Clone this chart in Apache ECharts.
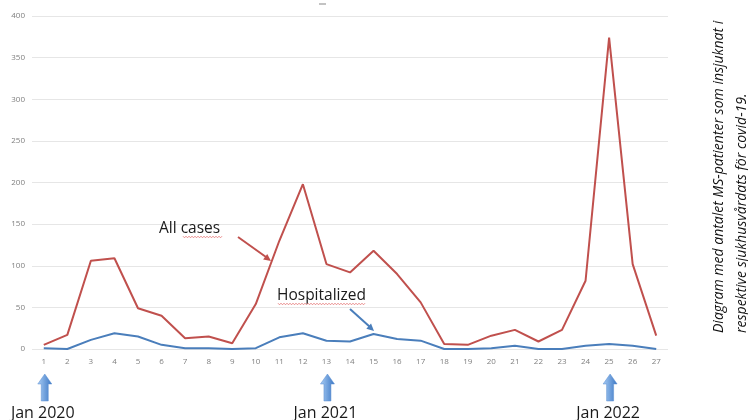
<!DOCTYPE html>
<html>
<head>
<meta charset="utf-8">
<script src="https://cdn.jsdelivr.net/npm/echarts@6/dist/echarts.min.js"></script>
<style>
html,body{margin:0;padding:0;background:#fff;}
#c{width:748px;height:420px;}
</style>
</head>
<body>
<div id="c"></div>
<script>
var categories = ['1','2','3','4','5','6','7','8','9','10','11','12','13','14','15','16','17','18','19','20','21','22','23','24','25','26','27'];
var allCases = [5,17,106,109,49,40,13,15,7,54,130,198,102,92,118,90,56,6,5,16,23,9,23,82,374,102,16];
var hospitalized = [1,0,11,19,15,5,1,1,0,1,14,19,10,9,18,12,10,0,0,1,4,0,0,4,6,4,0];
var yTicks = [0,50,100,150,200,250,300,350,400];
var markerCats = ['1','13','25'];
var markerLabels = ['Jan 2020','Jan 2021','Jan 2022'];
var captionLines = ['Diagram med antalet MS-patienter som insjuknat i','respektive sjukhusvårdats för covid-19.'];

(function () {
var chart = echarts.init(document.getElementById('c'));
chart.setOption({
  animation: false,
  backgroundColor: '#ffffff',
  grid: {left: 32, right: 80, top: 16, bottom: 71},
  xAxis: {
    type: 'category',
    data: categories,
    boundaryGap: true,
    axisLine: {show: false},
    axisTick: {show: false},
    axisLabel: {color: '#7f7f7f', fontSize: 8, fontFamily: 'Open Sans', margin: 9}
  },
  yAxis: {
    type: 'value',
    min: yTicks[0], max: yTicks[yTicks.length-1], interval: 50,
    axisLine: {show: false},
    axisTick: {show: false},
    axisLabel: {color: '#7f7f7f', fontSize: 8, fontFamily: 'Open Sans', margin: 7},
    splitLine: {lineStyle: {color: '#e6e6e6', width: 1}}
  },
  series: [
    {name: 'All cases', type: 'line', data: allCases, symbol: 'none', lineStyle: {color: '#c0504d', width: 2}, itemStyle:{color:'#c0504d'}},
    {name: 'Hospitalized', type: 'line', data: hospitalized, symbol: 'none', lineStyle: {color: '#4a7ebb', width: 2}, itemStyle:{color:'#4a7ebb'}}
  ]
});

function wavy(x0, x1, y) {
  var pts = [], up = true;
  for (var x = x0; x <= x1; x += 1.5) { pts.push([x, y + (up ? -0.8 : 0.8)]); up = !up; }
  return pts;
}
function arrowHead(x0, y0, x1, y1, size) {
  var a = Math.atan2(y1 - y0, x1 - x0);
  return [[x1, y1],
    [x1 - size * Math.cos(a - 0.45), y1 - size * Math.sin(a - 0.45)],
    [x1 - size * Math.cos(a + 0.45), y1 - size * Math.sin(a + 0.45)]];
}

var g = [];
g.push({type: 'line', shape: {x1: 319, y1: 4, x2: 326, y2: 4}, style: {stroke: '#9a9a9a', lineWidth: 1.2}});
g.push({type: 'text', x: 159, y: 229, style: {text: 'All cases', font: '15.5px "Open Sans"', fill: '#1a1a1a', align: 'left', verticalAlign: 'middle'}});
g.push({type: 'polyline', shape: {points: wavy(183, 222, 237)}, style: {stroke: '#e57373', lineWidth: 0.8, fill: null}});
g.push({type: 'line', shape: {x1: 238, y1: 237, x2: 266, y2: 257}, style: {stroke: '#c0504d', lineWidth: 2}});
g.push({type: 'polygon', shape: {points: arrowHead(238, 237, 271, 261, 8)}, style: {fill: '#c0504d'}});
g.push({type: 'text', x: 277, y: 296, style: {text: 'Hospitalized', font: '15.5px "Open Sans"', fill: '#1a1a1a', align: 'left', verticalAlign: 'middle'}});
g.push({type: 'polyline', shape: {points: wavy(278, 366, 304)}, style: {stroke: '#e57373', lineWidth: 0.8, fill: null}});
g.push({type: 'line', shape: {x1: 350, y1: 309, x2: 370, y2: 327}, style: {stroke: '#4a7ebb', lineWidth: 2}});
g.push({type: 'polygon', shape: {points: arrowHead(350, 309, 374, 331, 8)}, style: {fill: '#4a7ebb'}});

for (var i = 0; i < markerCats.length; i++) {
  var cx = chart.convertToPixel({xAxisIndex: 0}, markerCats[i]) + 1;
  var yTop = 374, yMid = 384, yBot = 401;
  g.push({type: 'polygon', shape: {points: [[cx, yTop], [cx + 7, yMid], [cx + 3.5, yMid], [cx + 3.5, yBot], [cx - 3.5, yBot], [cx - 3.5, yMid], [cx - 7, yMid]]},
    style: {fill: {type: 'linear', x: 0, y: 0, x2: 1, y2: 0, colorStops: [{offset: 0, color: '#a9cdf5'}, {offset: 1, color: '#3a76c4'}]}, stroke: '#5b8fd0', lineWidth: 0.5}});
  g.push({type: 'text', x: cx - 2, y: 413, style: {text: markerLabels[i], font: '16px "Open Sans"', fill: '#1a1a1a', align: 'center', verticalAlign: 'middle'}});
}
g.push({type: 'text', x: 719, y: 333, rotation: Math.PI / 2, style: {text: captionLines[0], font: 'italic 14px "Open Sans"', fill: '#111', align: 'left', verticalAlign: 'middle'}});
g.push({type: 'text', x: 742, y: 333, rotation: Math.PI / 2, style: {text: captionLines[1], font: 'italic 14px "Open Sans"', fill: '#111', align: 'left', verticalAlign: 'middle'}});

chart.setOption({graphic: {elements: g}});
})();
</script>
</body>
</html>
